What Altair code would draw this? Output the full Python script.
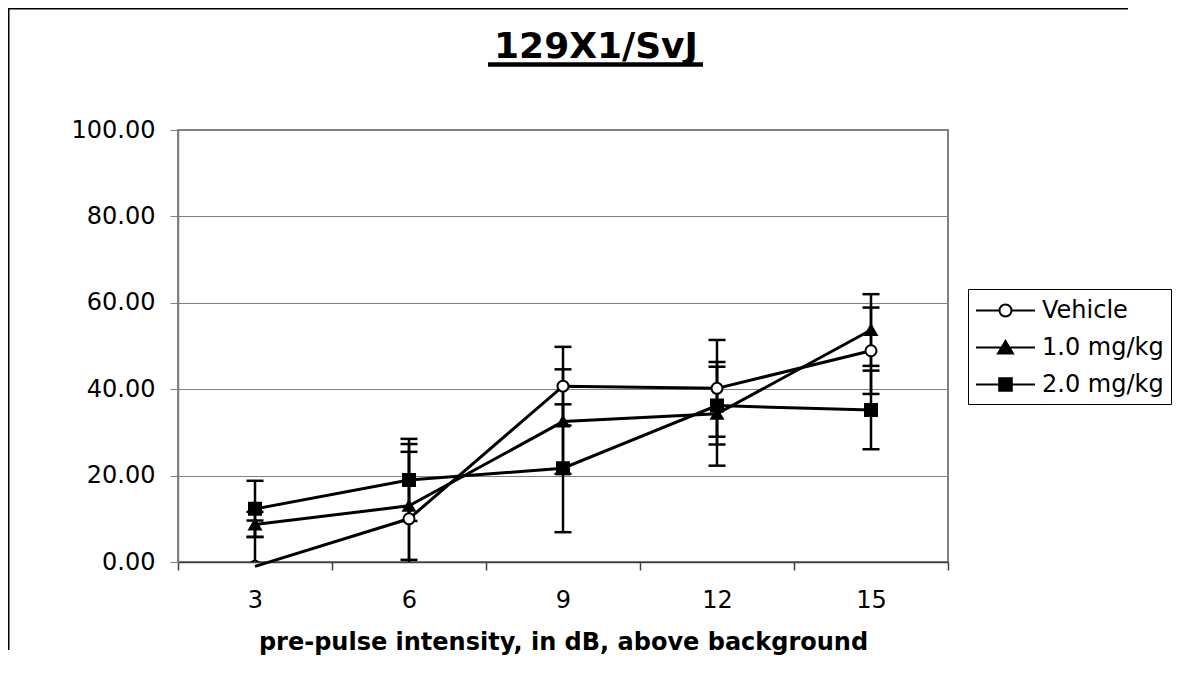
import altair as alt
import pandas as pd

# ---- data ----
x_labels = ["3", "6", "9", "12", "15"]
series = ["Vehicle", "1.0 mg/kg", "2.0 mg/kg"]
vehicle = [-1.0, 10.0, 40.7, 40.2, 48.9]
vehicle_err = [10.6, 17.3, 9.1, 11.2, 10.0]
dose1 = [8.7, 13.0, 32.5, 34.3, 53.7]
dose1_err = [2.9, 12.5, 12.1, 12.0, 8.3]
dose2 = [12.3, 19.0, 21.7, 36.2, 35.2]
dose2_err = [6.5, 9.5, 14.8, 9.0, 9.1]
y_ticks = [0, 20, 40, 60, 80, 100]
title_text = "129X1/SvJ"
x_title = "pre-pulse intensity, in dB, above background"

rows = []
for name, vals, errs in zip(series, [vehicle, dose1, dose2], [vehicle_err, dose1_err, dose2_err]):
    for xl, v, e in zip(x_labels, vals, errs):
        rows.append({"x": xl, "series": name, "y": v, "lo": v - e, "hi": v + e})
df = pd.DataFrame(rows)

FONT = "DejaVu Sans"

def X():
    return alt.X(
        "x:O", sort=x_labels,
        scale=alt.Scale(type="band", domain=x_labels, paddingInner=0, paddingOuter=0),
        axis=alt.Axis(title=x_title, labelAngle=0, tickBand="extent", grid=False,
                      tickSize=8, labelPadding=18, titlePadding=18,
                      domainColor="#404040", tickColor="#404040", domainWidth=1.5, tickWidth=1.5),
    )

def Y(field):
    return alt.Y(
        field, scale=alt.Scale(domain=[0, 100], nice=False),
        axis=alt.Axis(title=None, values=y_ticks, format=".2f", grid=True,
                      gridColor="#808080", gridWidth=1, tickSize=8, labelPadding=15,
                      domainColor="#808080", tickColor="#808080", domainWidth=1.5, tickWidth=1),
    )

base = alt.Chart(df)

err_rules = base.mark_rule(color="black", strokeWidth=2.5, clip=True).encode(
    x=X(), y=Y("lo:Q"), y2="hi:Q"
)
cap_lo = base.mark_tick(color="black", thickness=2.5, size=17, clip=True, opacity=1).encode(
    x=X(), y=Y("lo:Q")
)
cap_hi = base.mark_tick(color="black", thickness=2.5, size=17, clip=True, opacity=1).encode(
    x=X(), y=Y("hi:Q")
)
lines = base.mark_line(color="black", strokeWidth=3).encode(
    x=X(), y=Y("y:Q"), detail="series:N"
)
points = base.mark_point(filled=True, stroke="black", strokeWidth=2, opacity=1, clip=True).encode(
    x=X(), y=Y("y:Q"),
    shape=alt.Shape("series:N", scale=alt.Scale(domain=series, range=["circle", "triangle-up", "square"]), legend=None),
    fill=alt.Fill("series:N", scale=alt.Scale(domain=series, range=["white", "black", "black"]), legend=None),
    size=alt.Size("series:N", scale=alt.Scale(domain=series, range=[121, 144, 169]), legend=None),
)

# legend symbols: a line with the marker in its middle (unit = 13.5 px, symbol size 729)
legend_paths = [
    "M-1,0H0.741M1.629,0H3.37M1.629,0A0.444,0.444 0 1,1 0.741,0A0.444,0.444 0 1,1 1.629,0Z",
    "M-1,0H3.37M1.185,-0.48L1.74,0.44L0.63,0.44Z",
    "M-1,0H3.37M0.718,-0.467H1.652V0.467H0.718Z",
]
leg = alt.Legend(
    title=None, orient="none", legendX=790, legendY=159,
    strokeColor="black", padding=7, fillColor="white",
    symbolSize=729, symbolStrokeWidth=2, symbolStrokeColor="black",
    labelFont=FONT, labelFontSize=24, labelColor="black", labelOffset=38,
    rowPadding=10, labelLimit=400,
)
legend_layer = base.transform_filter("false").mark_point(
    filled=True, stroke="black", strokeWidth=2, opacity=1
).encode(
    x=X(), y=Y("y:Q"),
    shape=alt.Shape("series:N", scale=alt.Scale(domain=series, range=legend_paths), legend=leg),
    fill=alt.Fill("series:N", scale=alt.Scale(domain=series, range=["white", "black", "black"]), legend=leg),
    stroke=alt.Stroke("series:N", scale=alt.Scale(domain=series, range=["black", "black", "black"]), legend=leg),
)

one = pd.DataFrame({"t": [title_text]})
title_mark = alt.Chart(one).mark_text(
    font=FONT, fontWeight="bold", fontSize=36, align="center", baseline="alphabetic", color="black"
).encode(x=alt.value(418), y=alt.value(-72), text="t:N")
underline = alt.Chart(one).mark_rule(color="black", strokeWidth=4.5).encode(
    x=alt.value(310), x2=alt.value(525), y=alt.value(-65.5)
)
frame_left = alt.Chart(one).mark_rule(color="black", strokeWidth=1.5).encode(
    x=alt.value(-169.25), y=alt.value(-122), y2=alt.value(520)
)
frame_top = alt.Chart(one).mark_rule(color="black", strokeWidth=1.5).encode(
    x=alt.value(-170), x2=alt.value(950), y=alt.value(-121.25)
)

chart = alt.layer(
    frame_left, frame_top, err_rules, cap_lo, cap_hi, lines, points, legend_layer, title_mark, underline
).resolve_scale(
    shape="independent", fill="independent", stroke="independent"
).properties(
    width=770, height=432,
    padding={"left": 170, "top": 122, "right": 229, "bottom": 100},
    autosize=alt.AutoSizeParams(type="none"),
).configure(
    background="white"
).configure_view(
    stroke="#808080", strokeWidth=2
).configure_axis(
    labelFont=FONT, labelFontSize=24, labelColor="black",
    titleFont=FONT, titleFontSize=24, titleFontWeight="bold", titleColor="black",
)

chart.save("out.html", embed_options={"renderer": "svg", "actions": False})
